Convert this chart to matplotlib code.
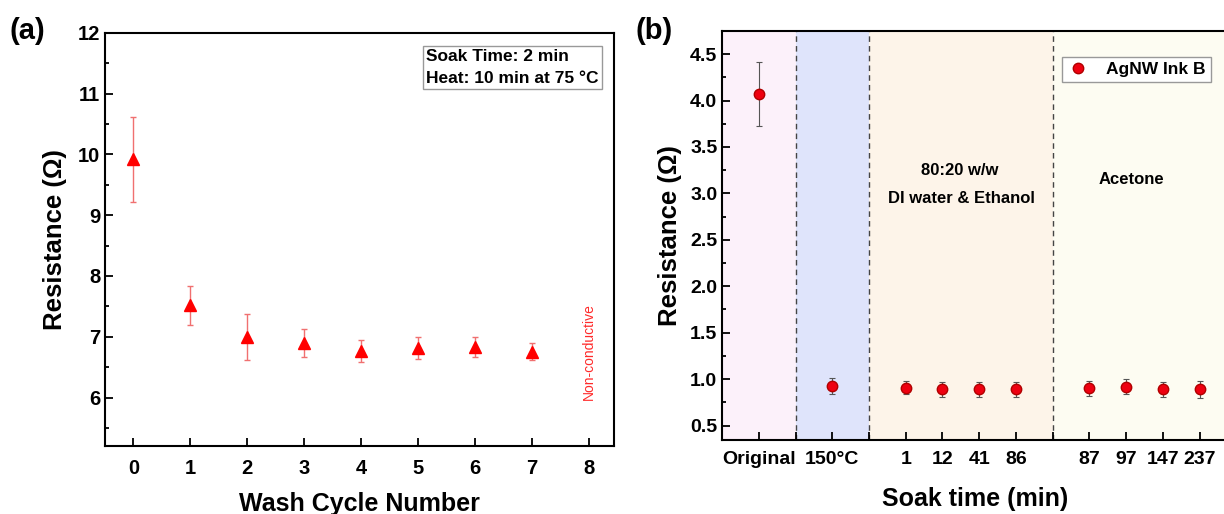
import matplotlib
matplotlib.use("Agg")
import matplotlib.pyplot as plt
import numpy as np

plt.rcParams['font.family'] = ['Liberation Sans', 'DejaVu Sans']
plt.rcParams['font.weight'] = 'bold'

# (a) wash cycles
cycles = [0, 1, 2, 3, 4, 5, 6, 7]
res_a = [9.92, 7.52, 6.99, 6.89, 6.76, 6.81, 6.83, 6.75]
err_a = [0.70, 0.32, 0.38, 0.23, 0.18, 0.18, 0.17, 0.14]

# (b) soak time
labels_b = ["Original", "150°C", "1", "12", "41", "86", "87", "97", "147", "237"]
pos_b = [0, 2, 4, 5, 6, 7, 9, 10, 11, 12]
res_b = [4.07, 0.93, 0.91, 0.89, 0.89, 0.89, 0.90, 0.92, 0.89, 0.89]
err_b = [0.34, 0.085, 0.075, 0.08, 0.08, 0.08, 0.085, 0.085, 0.08, 0.09]
regions = [(-1, 1, "#fcf1fa"), (1, 3, "#dfe4fb"), (3, 8, "#fdf4e9"), (8, 14, "#fdfcf2")]
dividers = [1, 3, 8]

fig = plt.figure(figsize=(12.24, 5.14), dpi=100)

# ---- panel (a)
ax = fig.add_axes([0.0858, 0.132, 0.416, 0.804])
ax.errorbar(cycles, res_a, yerr=err_a, fmt='^', color='red', ms=8,
            ecolor='#f07070', elinewidth=1, capsize=2.5, capthick=1)
ax.set_xlim(-0.5, 8.45)
ax.set_ylim(5.2, 12)
ax.set_xticks(range(0, 9))
ax.set_yticks(range(6, 13))
ax.set_yticks(np.arange(5.5, 12, 1), minor=True)
ax.tick_params(direction='in', which='both', width=1.3, labelsize=14.5)
ax.tick_params(which='major', length=6)
ax.tick_params(which='minor', length=3)
ax.tick_params(axis='x', pad=9)
for s in ax.spines.values():
    s.set_linewidth(1.5)
ax.set_ylabel("Resistance (Ω)", fontsize=18.5, fontweight='bold', labelpad=8)
ax.set_xlabel("Wash Cycle Number", fontsize=18, fontweight='bold', labelpad=10)
ax.text(8, 6.76, "Non-conductive", color='#ff2a2a', rotation=90, fontsize=10,
        fontweight='normal', ha='center', va='center')
ax.text(0.970, 0.960, "Soak Time: 2 min\nHeat: 10 min at 75 °C", transform=ax.transAxes,
        ha='right', va='top', fontsize=12.5, linespacing=1.55, multialignment='left',
        bbox=dict(boxstyle='square,pad=0.2', fc='white', ec='#999999', lw=1))
fig.text(0.008, 0.94, "(a)", fontsize=21, fontweight='bold', va='center')

# ---- panel (b)
bx = fig.add_axes([0.590, 0.144, 0.42, 0.796])
for x0, x1, c in regions:
    bx.axvspan(x0, x1, color=c, lw=0, zorder=0)
for d in dividers:
    bx.axvline(d, color='#444444', ls=(0, (4, 3)), lw=1, zorder=1)
bx.errorbar(pos_b, res_b, yerr=err_b, fmt='none',
            ecolor='#555555', elinewidth=0.8, capsize=2.5, capthick=0.8, zorder=2)
bx.plot(pos_b, res_b, 'o', color='#ee0010', mec='#b00000', ms=7.5,
        label="AgNW Ink B", zorder=3)
bx.set_xlim(-1, 13)
bx.set_ylim(0.345, 4.75)
ticks_b = list(range(0, 13))
tick_lbls = [labels_b[pos_b.index(t)] if t in pos_b else "" for t in ticks_b]
bx.set_xticks(ticks_b)
bx.set_xticklabels(tick_lbls)
bx.set_yticks(np.arange(0.5, 4.6, 0.5))
bx.set_yticks(np.arange(0.75, 4.7, 0.5), minor=True)
bx.tick_params(direction='in', which='both', width=1.3, labelsize=14)
bx.tick_params(which='major', length=6)
bx.tick_params(which='minor', length=3)
bx.tick_params(axis='x', pad=8)
for s in bx.spines.values():
    s.set_linewidth(1.5)
bx.set_ylabel("Resistance (Ω)", fontsize=18.5, fontweight='bold', labelpad=6)
bx.set_xlabel("Soak time (min)", fontsize=18, fontweight='bold')
bx.xaxis.set_label_coords(0.492, -0.115)
bx.text(5.47, 3.25, "80:20 w/w", fontsize=12, ha='center', va='center')
bx.text(5.52, 2.94, "DI water & Ethanol", fontsize=12, ha='center', va='center')
bx.text(10.15, 3.15, "Acetone", fontsize=12, ha='center', va='center')
leg = bx.legend(loc='upper right', bbox_to_anchor=(0.967, 0.958), fontsize=12.5,
                fancybox=False, edgecolor='#999999', framealpha=1, handlelength=1.2,
                handletextpad=1.0, borderpad=0.3)
leg.get_frame().set_linewidth(1)
fig.text(0.519, 0.94, "(b)", fontsize=21, fontweight='bold', va='center')

fig.savefig("out.png", dpi=100)
